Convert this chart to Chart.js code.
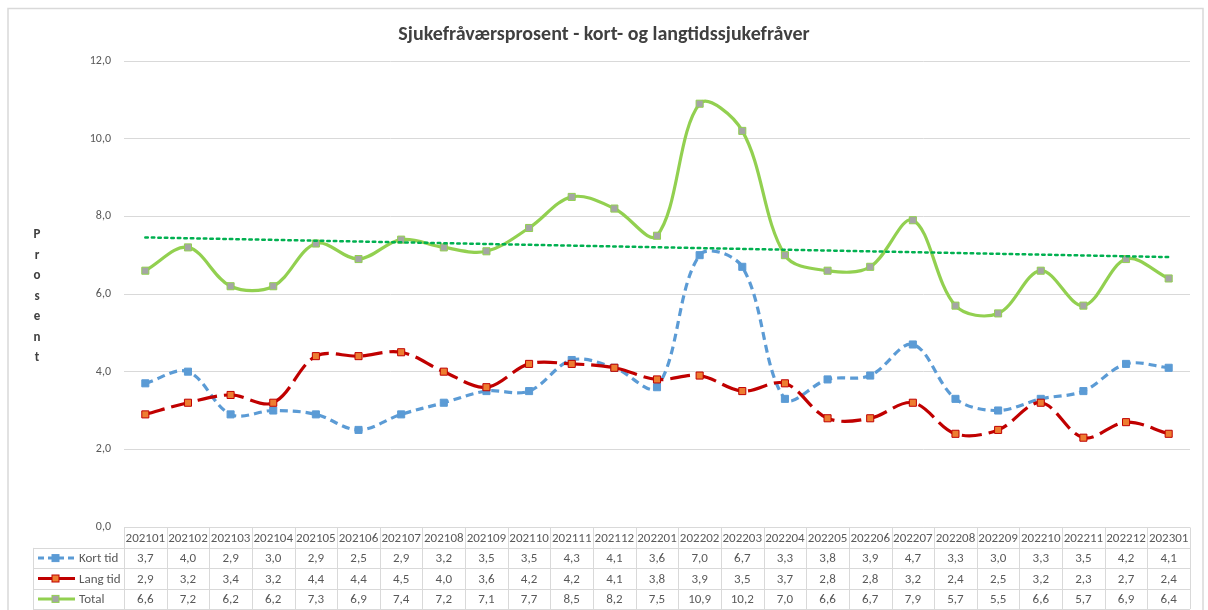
<!DOCTYPE html>
<html>
<head>
<meta charset="utf-8">
<script src="https://cdn.jsdelivr.net/npm/chart.js@4.4.1/dist/chart.umd.min.js"></script>
<style>
  html, body { margin: 0; padding: 0; background: #ffffff; }
  #wrap { width: 1208px; height: 610px; }
</style>
</head>
<body>
<div id="wrap"><canvas id="sickChart" width="1208" height="610"></canvas></div>
<script>
const categories = ['202101', '202102', '202103', '202104', '202105', '202106', '202107', '202108', '202109', '202110', '202111', '202112',
    '202201', '202202', '202203', '202204', '202205', '202206', '202207', '202208', '202209', '202210', '202211', '202212', '202301'];
const kortTid = [3.7, 4.0, 2.9, 3.0, 2.9, 2.5, 2.9, 3.2, 3.5, 3.5, 4.3, 4.1, 3.6, 7.0, 6.7, 3.3, 3.8, 3.9, 4.7, 3.3, 3.0, 3.3, 3.5, 4.2, 4.1];
const langTid = [2.9, 3.2, 3.4, 3.2, 4.4, 4.4, 4.5, 4.0, 3.6, 4.2, 4.2, 4.1, 3.8, 3.9, 3.5, 3.7, 2.8, 2.8, 3.2, 2.4, 2.5, 3.2, 2.3, 2.7, 2.4];
const total = [6.6, 7.2, 6.2, 6.2, 7.3, 6.9, 7.4, 7.2, 7.1, 7.7, 8.5, 8.2, 7.5, 10.9, 10.2, 7.0, 6.6, 6.7, 7.9, 5.7, 5.5, 6.6, 5.7, 6.9, 6.4];
const seriesNames = ['Kort tid', 'Lang tid', 'Total'];
const chartTitle = 'Sjukefråværsprosent - kort- og langtidssjukefråver';
const axisTitle = 'Prosent';
const yMin = 0, yMax = 12, yStep = 2;

const FONT = 'Carlito, "Liberation Sans Narrow", "Liberation Sans", sans-serif';
const TEXT = '#595959';
const GRID = '#d9d9d9';

// linear trendline (like Excel) for Total
function linearTrend(values) {
    const n = values.length;
    let sx = 0, sy = 0, sxy = 0, sxx = 0;
    values.forEach((v, i) => { sx += i; sy += v; sxy += i * v; sxx += i * i; });
    const slope = (n * sxy - sx * sy) / (n * sxx - sx * sx);
    const icpt = (sy - slope * sx) / n;
    return values.map((v, i) => icpt + slope * i);
}

function fmt(v) {
    return v.toFixed(1).replace('.', ',');
}

const seriesStyles = [
    { color: '#5b9bd5', dash: [8, 5], fill: '#5b9bd5', edge: '#5b9bd5' },
    { color: '#c00000', dash: [20, 7], fill: '#ed7d31', edge: '#c00000' },
    { color: '#92d050', dash: [], fill: '#a5a5a5', edge: '#92d050' }
];
const seriesData = [kortTid, langTid, total];

const frameAndText = {
    id: 'frameAndText',
    beforeDraw(chart) {
        const ctx = chart.ctx;
        ctx.save();
        ctx.fillStyle = '#ffffff';
        ctx.fillRect(0, 0, chart.width, chart.height);
        ctx.strokeStyle = GRID;
        ctx.lineWidth = 1.5;
        ctx.strokeRect(8, 8.5, 1195, 610);
        ctx.restore();
    },
    afterDraw(chart) {
        const ctx = chart.ctx;
        const xs = chart.scales.x;
        const colW = (xs.right - xs.left) / categories.length;
        ctx.save();

        // title
        ctx.fillStyle = '#404040';
        ctx.font = 'bold 20px ' + FONT;
        ctx.textAlign = 'center';
        ctx.textBaseline = 'alphabetic';
        ctx.fillText(chartTitle, 604, 40);

        // vertical axis title, stacked letters
        ctx.font = 'bold 13px ' + FONT;
        axisTitle.split('').forEach((ch, i) => {
            ctx.fillText(ch, 37, 238 + i * 20.5);
        });

        // data table
        const top = 527.5;
        const rowH = 20.4;
        const legLeft = 33;
        const bottom = top + rowH * 4;
        ctx.strokeStyle = GRID;
        ctx.lineWidth = 1;
        ctx.beginPath();
        for (let r = 1; r <= 4; r++) {
            const y = Math.round(top + rowH * r) + 0.5;
            ctx.moveTo(legLeft, y);
            ctx.lineTo(xs.right, y);
        }
        ctx.moveTo(xs.left, top);
        ctx.lineTo(xs.right, top);
        for (let c = 0; c <= categories.length; c++) {
            const x = Math.round(xs.left + c * colW) + 0.5;
            ctx.moveTo(x, top);
            ctx.lineTo(x, bottom);
        }
        ctx.moveTo(legLeft + 0.5, top + rowH);
        ctx.lineTo(legLeft + 0.5, bottom);
        ctx.stroke();

        ctx.fillStyle = TEXT;
        ctx.font = '13px ' + FONT;
        ctx.textAlign = 'center';
        ctx.textBaseline = 'middle';
        categories.forEach((cat, i) => {
            ctx.fillText(cat, xs.getPixelForValue(i), top + rowH / 2 + 1);
        });
        seriesData.forEach((vals, r) => {
            const cy = top + rowH * (r + 1.5) + 1;
            vals.forEach((v, i) => {
                ctx.fillText(fmt(v), xs.getPixelForValue(i), cy);
            });
        });

        // legend keys in table
        seriesNames.forEach((name, r) => {
            const st = seriesStyles[r];
            const cy = top + rowH * (r + 1.5);
            ctx.strokeStyle = st.color;
            ctx.lineWidth = 3;
            ctx.setLineDash(r === 0 ? [6, 4] : []);
            ctx.beginPath();
            ctx.moveTo(38, cy);
            ctx.lineTo(75, cy);
            ctx.stroke();
            ctx.setLineDash([]);
            ctx.fillStyle = st.fill;
            ctx.fillRect(52, cy - 3.5, 7, 7);
            ctx.strokeStyle = st.edge;
            ctx.lineWidth = 1;
            ctx.strokeRect(52, cy - 3.5, 7, 7);
            ctx.fillStyle = TEXT;
            ctx.textAlign = 'left';
            ctx.fillText(name, 79, cy + 1);
        });
        ctx.restore();
    }
};

function makeSeries(i) {
    const st = seriesStyles[i];
    return {
        label: seriesNames[i],
        data: seriesData[i],
        borderColor: st.color,
        borderWidth: 3.2,
        borderDash: st.dash,
        tension: 0.35,
        pointStyle: 'rect',
        pointRadius: 5,
        pointBackgroundColor: st.fill,
        pointBorderColor: st.edge,
        pointBorderWidth: 1,
        fill: false,
        order: 3 - i
    };
}

new Chart(document.getElementById('sickChart').getContext('2d'), {
    type: 'line',
    data: {
        labels: categories,
        datasets: [
            makeSeries(0),
            makeSeries(1),
            makeSeries(2),
            {
                label: 'Trend Total',
                data: linearTrend(total),
                borderColor: '#00b050',
                borderWidth: 2.5,
                borderDash: [2.5, 4],
                borderCapStyle: 'round',
                pointRadius: 0,
                tension: 0,
                fill: false,
                order: 0
            }
        ]
    },
    options: {
        responsive: false,
        animation: false,
        events: [],
        layout: { padding: { left: 0, right: 18, top: 61, bottom: 0 } },
        plugins: {
            legend: { display: false },
            title: { display: false },
            tooltip: { enabled: false }
        },
        scales: {
            x: {
                offset: true,
                grid: { display: false },
                border: { display: false },
                ticks: { display: false },
                afterFit(scale) { scale.height = 83; }
            },
            y: {
                min: yMin,
                max: yMax,
                border: { display: false },
                grid: { color: GRID, lineWidth: 1, drawTicks: false },
                ticks: {
                    stepSize: yStep,
                    padding: 13,
                    color: TEXT,
                    font: { family: FONT, size: 12 },
                    callback: (v) => fmt(v)
                },
                afterFit(scale) { scale.width = 124; }
            }
        }
    },
    plugins: [frameAndText]
});
</script>
</body>
</html>
